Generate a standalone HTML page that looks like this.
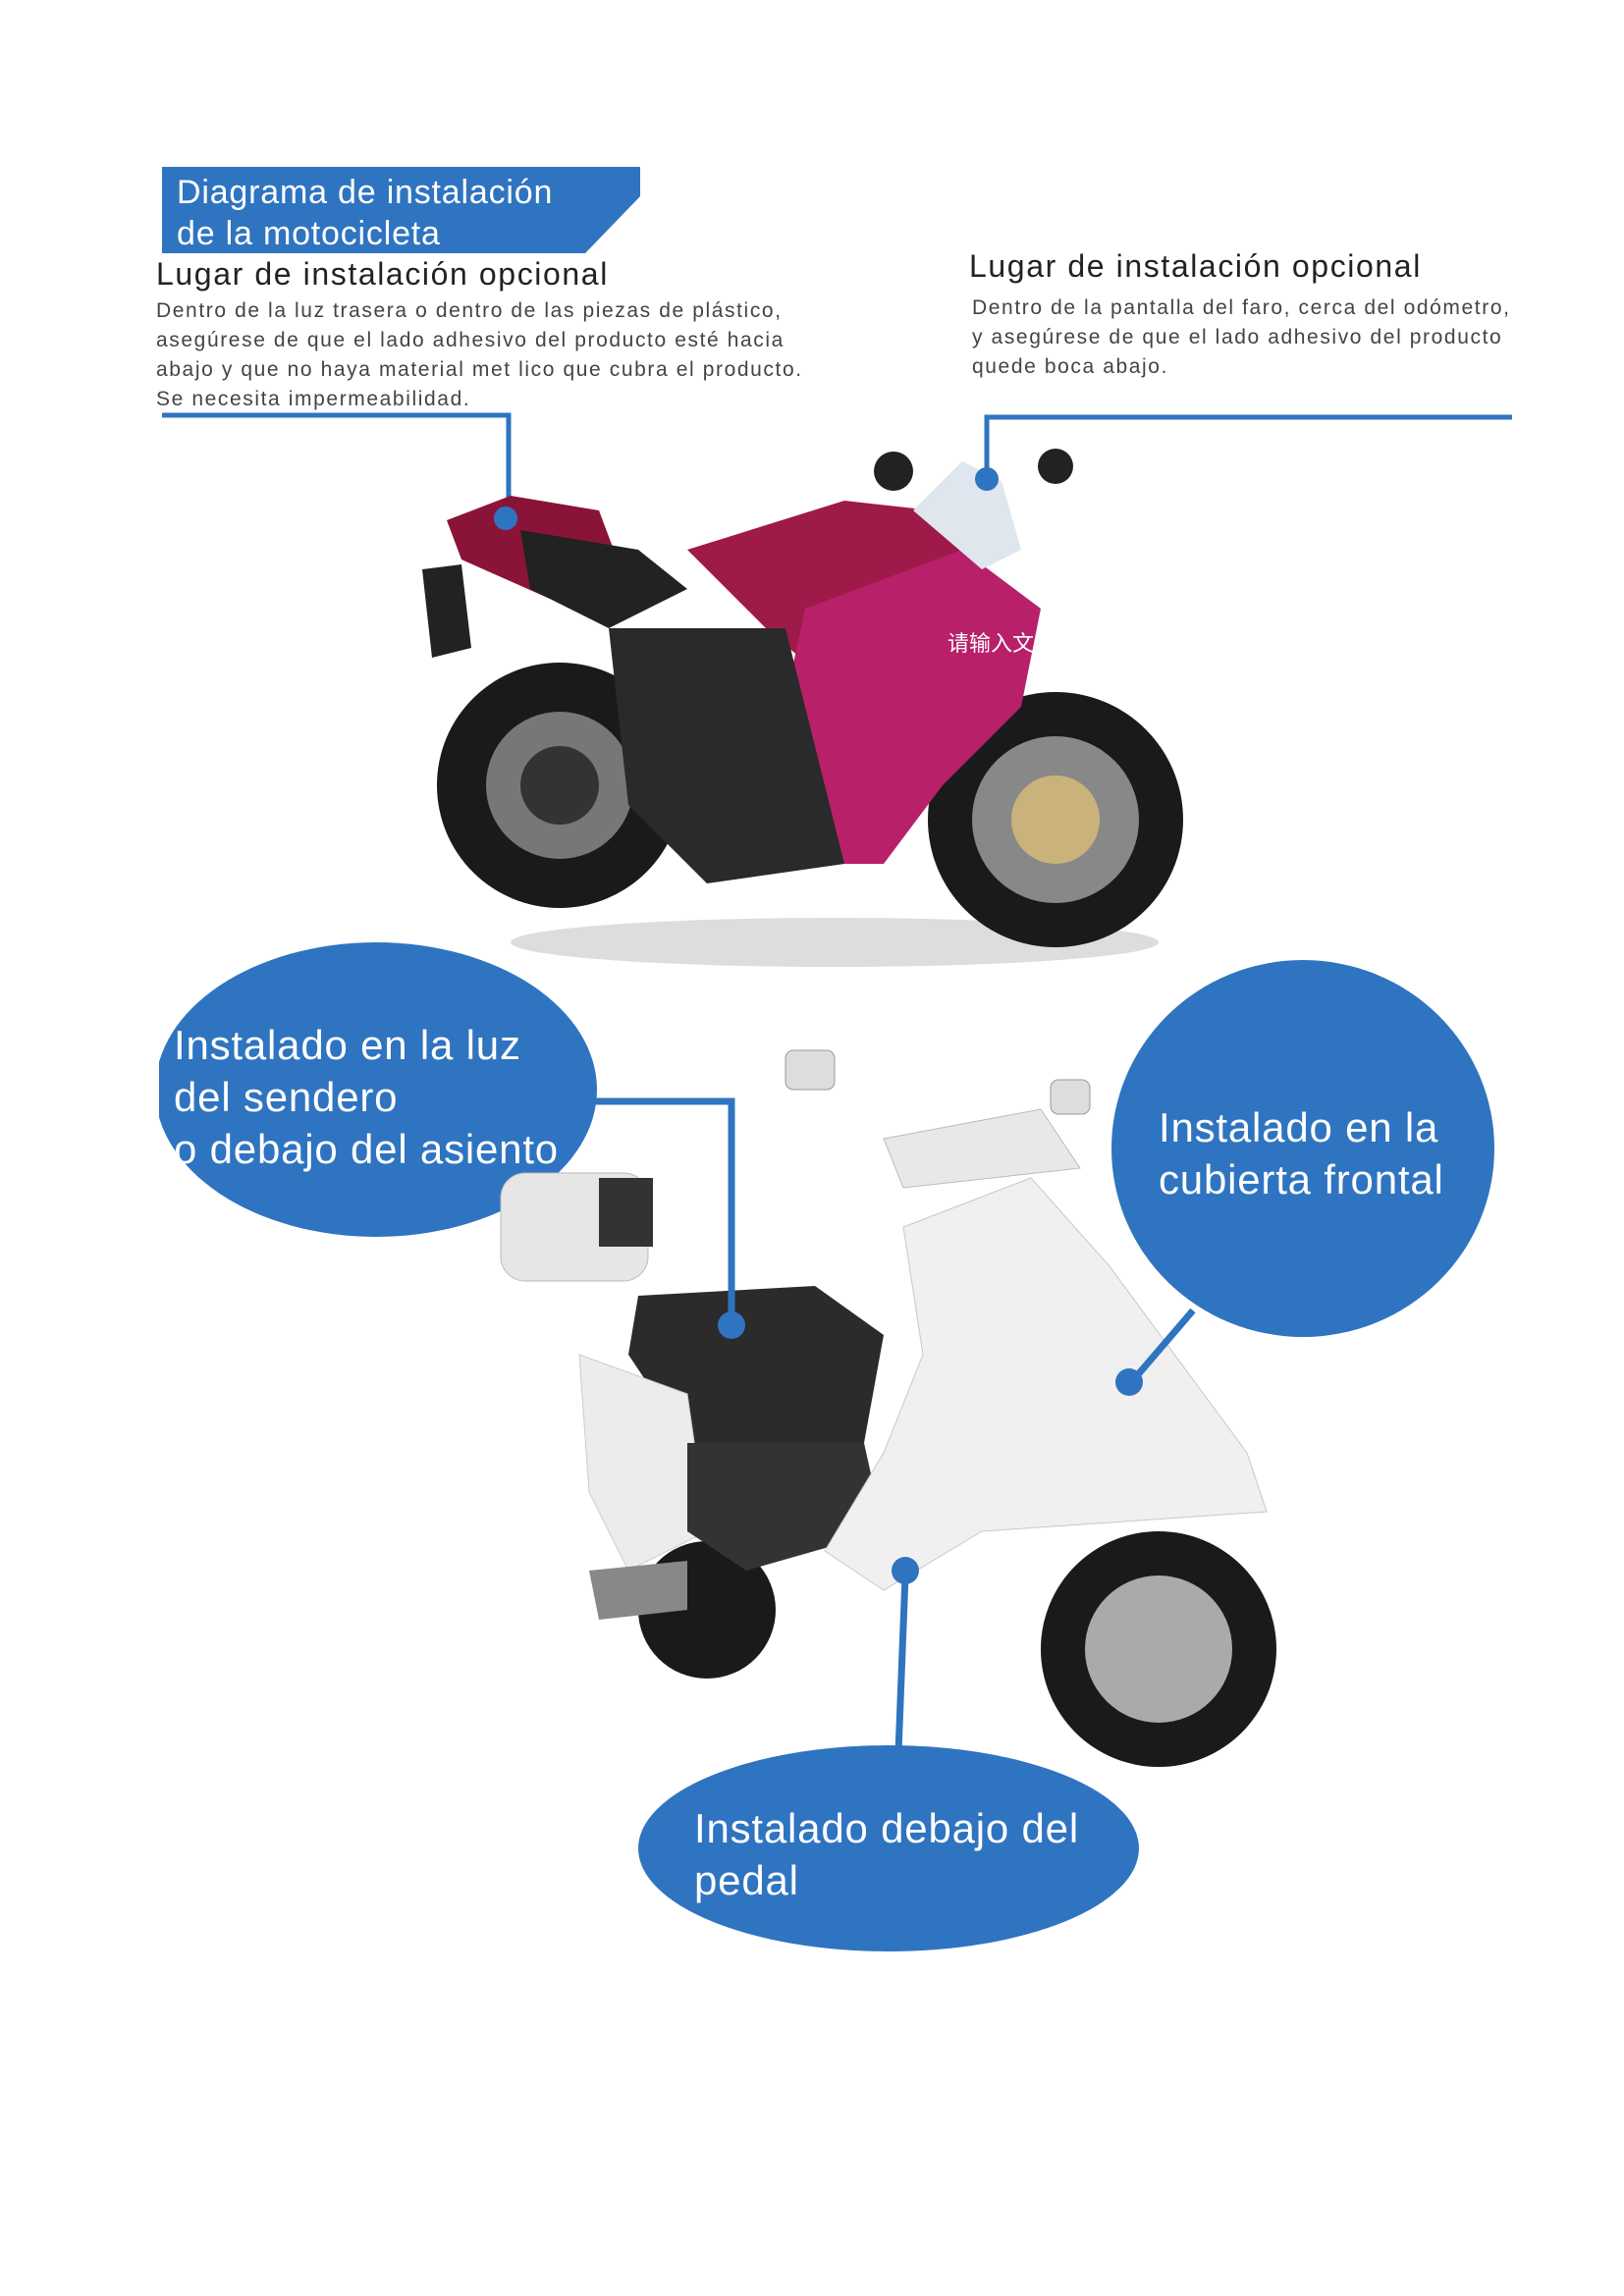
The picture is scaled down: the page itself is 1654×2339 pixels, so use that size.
<!DOCTYPE html>
<html><head><meta charset="utf-8"><style>
body{margin:0;background:#fff;}
#p{position:relative;width:1654px;height:2339px;overflow:hidden;font-family:"Liberation Sans","Noto Sans CJK SC",sans-serif;}
.t{position:absolute;white-space:nowrap;}
</style></head><body><div id="p">
<svg width="1654" height="2339" style="position:absolute;left:0;top:0">
<polygon points="165,170 652,170 652,200 596,258 165,258" fill="#2f74c0"/>
<polyline points="165,423 518,423 518,528" fill="none" stroke="#2f74c0" stroke-width="5"/>
<polyline points="1540,425 1005,425 1005,486" fill="none" stroke="#2f74c0" stroke-width="5"/>
<g>
<ellipse cx="850" cy="960" rx="330" ry="25" fill="#ddd"/>
<circle cx="570" cy="800" r="125" fill="#1a1a1a"/><circle cx="570" cy="800" r="75" fill="#777"/><circle cx="570" cy="800" r="40" fill="#333"/>
<circle cx="1075" cy="835" r="130" fill="#1a1a1a"/><circle cx="1075" cy="835" r="85" fill="#888"/><circle cx="1075" cy="835" r="45" fill="#c9b37a"/>
<polygon points="455,530 520,505 610,520 640,600 560,610 470,570" fill="#8a1438"/>
<polygon points="530,540 650,560 700,600 620,640 540,600" fill="#222"/>
<polygon points="700,560 860,510 950,520 1000,560 930,640 850,700 780,640" fill="#9e1a48"/>
<polygon points="820,620 980,560 1060,620 1040,720 960,800 900,880 830,880 790,760" fill="#b8206a"/>
<polygon points="620,640 800,640 860,880 720,900 640,820" fill="#2a2a2a"/>
<polygon points="930,520 980,470 1020,490 1040,560 1000,580" fill="#dfe6ee"/>
<circle cx="910" cy="480" r="20" fill="#222"/><circle cx="1075" cy="475" r="18" fill="#222"/>
<polygon points="430,580 470,575 480,660 440,670" fill="#222"/>
<circle cx="515" cy="528" r="12" fill="#2f74c0"/>
<circle cx="1005" cy="488" r="12" fill="#2f74c0"/>
</g>
<clipPath id="c"><rect x="162" y="0" width="1500" height="2339"/></clipPath>
<ellipse cx="383" cy="1110" rx="225" ry="150" fill="#2f74c0" clip-path="url(#c)"/>
<ellipse cx="1327" cy="1170" rx="195" ry="192" fill="#2f74c0"/>
<ellipse cx="905" cy="1883" rx="255" ry="105" fill="#2f74c0"/>
<g>
<circle cx="1180" cy="1680" r="120" fill="#1a1a1a"/><circle cx="1180" cy="1680" r="75" fill="#aaa"/>
<circle cx="720" cy="1640" r="70" fill="#1a1a1a"/>
<rect x="510" y="1195" width="150" height="110" rx="25" fill="#e6e6e6" stroke="#bbb"/>
<rect x="610" y="1200" width="55" height="70" fill="#333"/>
<polygon points="650,1320 830,1310 900,1360 880,1470 700,1470 640,1380" fill="#2b2b2b"/>
<polygon points="590,1380 700,1420 720,1560 640,1600 600,1520" fill="#ececec" stroke="#ccc"/>
<polygon points="700,1470 880,1470 900,1560 760,1600 700,1560" fill="#333"/>
<polygon points="920,1250 1050,1200 1130,1290 1270,1480 1290,1540 1000,1560 900,1620 840,1580 900,1480 940,1380" fill="#f0f0f0" stroke="#c8c8c8"/>
<polygon points="900,1160 1060,1130 1100,1190 920,1210" fill="#e8e8e8" stroke="#bbb"/>
<rect x="800" y="1070" width="50" height="40" rx="8" fill="#ddd" stroke="#999"/>
<rect x="1070" y="1100" width="40" height="35" rx="8" fill="#ddd" stroke="#999"/>
<polygon points="600,1600 700,1590 700,1640 610,1650" fill="#888"/>
</g>
<polyline points="600,1122 745,1122 745,1345" fill="none" stroke="#2f74c0" stroke-width="7"/>
<circle cx="745" cy="1350" r="14" fill="#2f74c0"/>
<line x1="1215" y1="1335" x2="1155" y2="1405" stroke="#2f74c0" stroke-width="7"/>
<circle cx="1150" cy="1408" r="14" fill="#2f74c0"/>
<line x1="915" y1="1785" x2="922" y2="1605" stroke="#2f74c0" stroke-width="7"/>
<circle cx="922" cy="1600" r="14" fill="#2f74c0"/>
</svg>
<div class="t" style="left:180px;top:175px;font-size:34px;line-height:42px;color:#fff;letter-spacing:0.8px">Diagrama de instalación<br>de la motocicleta</div>
<div class="t" style="left:159px;top:261px;font-size:32px;color:#222;letter-spacing:1.6px">Lugar de instalación opcional</div>
<div class="t" style="left:159px;top:302px;font-size:21px;line-height:30px;color:#444;letter-spacing:1.6px">Dentro de la luz trasera o dentro de las piezas de plástico,<br>asegúrese de que el lado adhesivo del producto esté hacia<br>abajo y que no haya material met lico que cubra el producto.<br>Se necesita impermeabilidad.</div>
<div class="t" style="left:987px;top:253px;font-size:32px;color:#222;letter-spacing:1.6px">Lugar de instalación opcional</div>
<div class="t" style="left:990px;top:299px;font-size:21px;line-height:30px;color:#444;letter-spacing:1.6px">Dentro de la pantalla del faro, cerca del odómetro,<br>y asegúrese de que el lado adhesivo del producto<br>quede boca abajo.</div>
<div class="t" style="left:965px;top:638px;font-size:22px;color:#fff">请输入文字</div>
<div class="t" style="left:177px;top:1038px;font-size:42px;line-height:53px;color:#fff;letter-spacing:0.8px">Instalado en la luz<br>del sendero<br>o debajo del asiento</div>
<div class="t" style="left:1180px;top:1122px;font-size:42px;line-height:53px;color:#fff;letter-spacing:0.8px">Instalado en la<br>cubierta frontal</div>
<div class="t" style="left:707px;top:1836px;font-size:42px;line-height:53px;color:#fff;letter-spacing:0.8px">Instalado debajo del<br>pedal</div>
</div></body></html>
